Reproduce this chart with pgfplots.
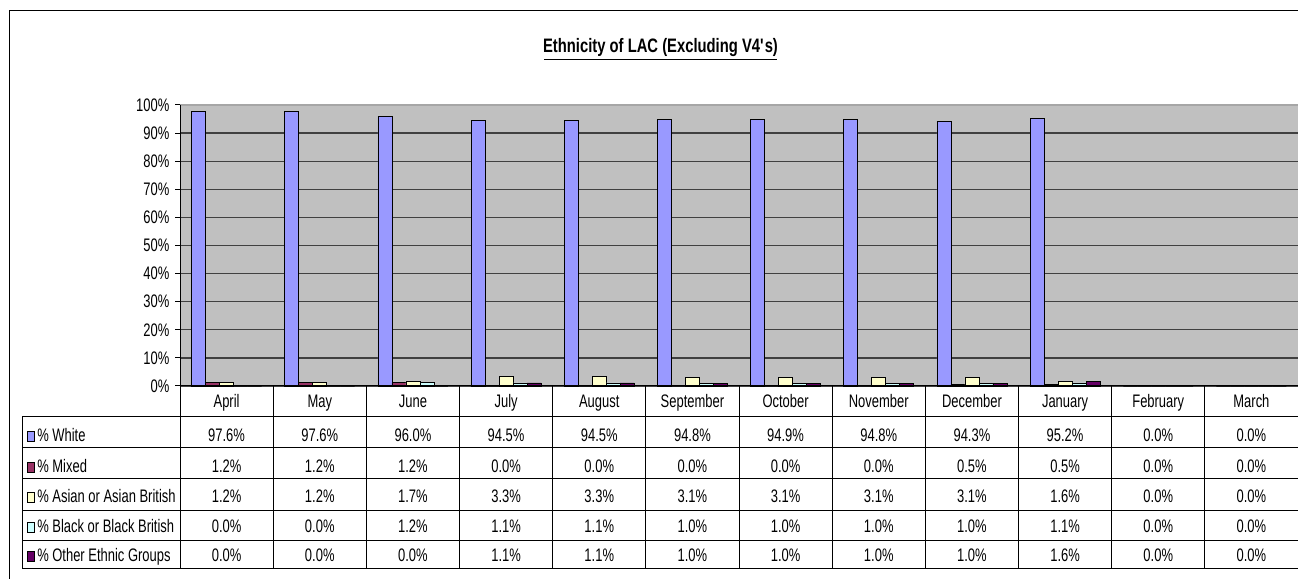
\documentclass[border=0pt]{standalone}
\usepackage{pgfplots}
\pgfplotsset{compat=1.18}
\usepackage{pgfplotstable}
\usepackage{fontspec}
\setmainfont{Liberation Sans}[FakeStretch=0.715]
\newfontfamily\titlefont{Liberation Sans}[FakeStretch=0.76]
\definecolor{cWhite}{HTML}{9999FF}
\definecolor{cMixed}{HTML}{993366}
\definecolor{cAsian}{HTML}{FFFFCC}
\definecolor{cBlack}{HTML}{CCFFFF}
\definecolor{cOther}{HTML}{660066}
\definecolor{plotbg}{HTML}{C0C0C0}

\pgfplotstableread{
m white mixed asian black other
0 97.6 1.2 1.2 0.0 0.0
1 97.6 1.2 1.2 0.0 0.0
2 96.0 1.2 1.7 1.2 0.0
3 94.5 0.0 3.3 1.1 1.1
4 94.5 0.0 3.3 1.1 1.1
5 94.8 0.0 3.1 1.0 1.0
6 94.9 0.0 3.1 1.0 1.0
7 94.8 0.0 3.1 1.0 1.0
8 94.3 0.5 3.1 1.0 1.0
9 95.2 0.5 1.6 1.1 1.6
10 0.0 0.0 0.0 0.0 0.0
11 0.0 0.0 0.0 0.0 0.0
}\data

\begin{document}
\begin{tikzpicture}[font=\fontsize{13.6pt}{16pt}\selectfont]
\useasboundingbox (0,0) rectangle (973.5pt,433.5pt);
\begin{axis}[
  at={(135pt,144pt)}, anchor=south west,
  scale only axis, width=838.5pt, height=210.75pt,
  xmin=-0.5, xmax=11.5, ymin=0, ymax=100,
  xtick=\empty,
  ytick={0,10,...,100},
  yticklabels={0\%,10\%,20\%,30\%,40\%,50\%,60\%,70\%,80\%,90\%,100\%},
  ytick pos=left,
  axis line style={draw=black!35, line width=0.75pt},
  tick align=outside, major tick length=3.75pt,
  tick style={black, line width=0.75pt},
  ymajorgrids, grid style={black!75, line width=1pt},
  axis background/.style={fill=plotbg},
  yticklabel style={inner sep=0pt, xshift=-4pt},
  ybar, bar width=0.15,
  clip=false,
]
\addplot[fill=cWhite, draw=black, line width=0.5pt, bar shift=-0.3] table[x=m,y=white]{\data};
\addplot[fill=cMixed, draw=black, line width=0.5pt, bar shift=-0.15] table[x=m,y=mixed]{\data};
\addplot[fill=cAsian, draw=black, line width=0.5pt, bar shift=0] table[x=m,y=asian]{\data};
\addplot[fill=cBlack, draw=black, line width=0.5pt, bar shift=0.15] table[x=m,y=black]{\data};
\addplot[fill=cOther, draw=black, line width=0.5pt, bar shift=0.3] table[x=m,y=other]{\data};
\draw[black!35, line width=1pt] (rel axis cs:0,1) -- (rel axis cs:1,1);
\draw[black, line width=0.75pt] (rel axis cs:0,1) -- (rel axis cs:0,0) -- (rel axis cs:1,0);
\end{axis}
\begin{scope}[x=0.75pt, y=-0.75pt, yshift=433.5pt]
  % outer frame
  \draw[black, line width=0.75pt] (9,580) -- (9,11) -- (1300,11);
  % title
  \node[anchor=base, inner sep=0pt] at (660.5,53) {\titlefont\bfseries\fontsize{14.6pt}{17pt}\selectfont Ethnicity of LAC (Excluding V4\textquotesingle s)};
  \draw[black, line width=1.4pt] (544,59.5) -- (777,59.5);
  % table grid
  \foreach \yy in {417,448,479,510,540,568} {
    \draw[black, line width=0.75pt] (22,\yy) -- (1300,\yy);
  }
  \draw[black, line width=0.75pt] (22,417) -- (22,568);
  \foreach \k in {1,...,11} {
    \draw[black, line width=0.75pt] ({180+\k*93.1667},386) -- ({180+\k*93.1667},568);
  }
  \draw[black, line width=0.75pt] (180,386) -- (180,568);
  % month names
  \foreach \i/\mname in {0/April,1/May,2/June,3/July,4/August,5/September,6/October,7/November,8/December,9/January,10/February,11/March} {
    \node[anchor=base] at ({180+(\i+0.5)*93.1667},408) {\mname};
  }
  % values
  \foreach \i in {0,...,11} {
    \foreach \col/\yy in {white/441.5,mixed/472.5,asian/502.5,black/532.5,other/561.5} {
      \pgfplotstablegetelem{\i}{\col}\of\data
      \node[anchor=base] at ({180+(\i+0.5)*93.1667},\yy) {\pgfmathprintnumber[fixed,fixed zerofill,precision=1,assume math mode=true]{\pgfplotsretval}\%};
    }
  }
  % legend keys
  \foreach \c/\name/\yy in {cWhite/\% White/441.5,cMixed/\% Mixed/472.5,cAsian/\% Asian or Asian British/502.5,cBlack/\% Black or Black British/532.5,cOther/\% Other Ethnic Groups/561.5} {
    \draw[fill=\c, draw=black, line width=0.5pt] (27,{\yy-10.5}) rectangle (34,\yy);
    \node[anchor=base west, inner sep=0pt] at (37,\yy) {\name};
  }
\end{scope}
\end{tikzpicture}
\end{document}
